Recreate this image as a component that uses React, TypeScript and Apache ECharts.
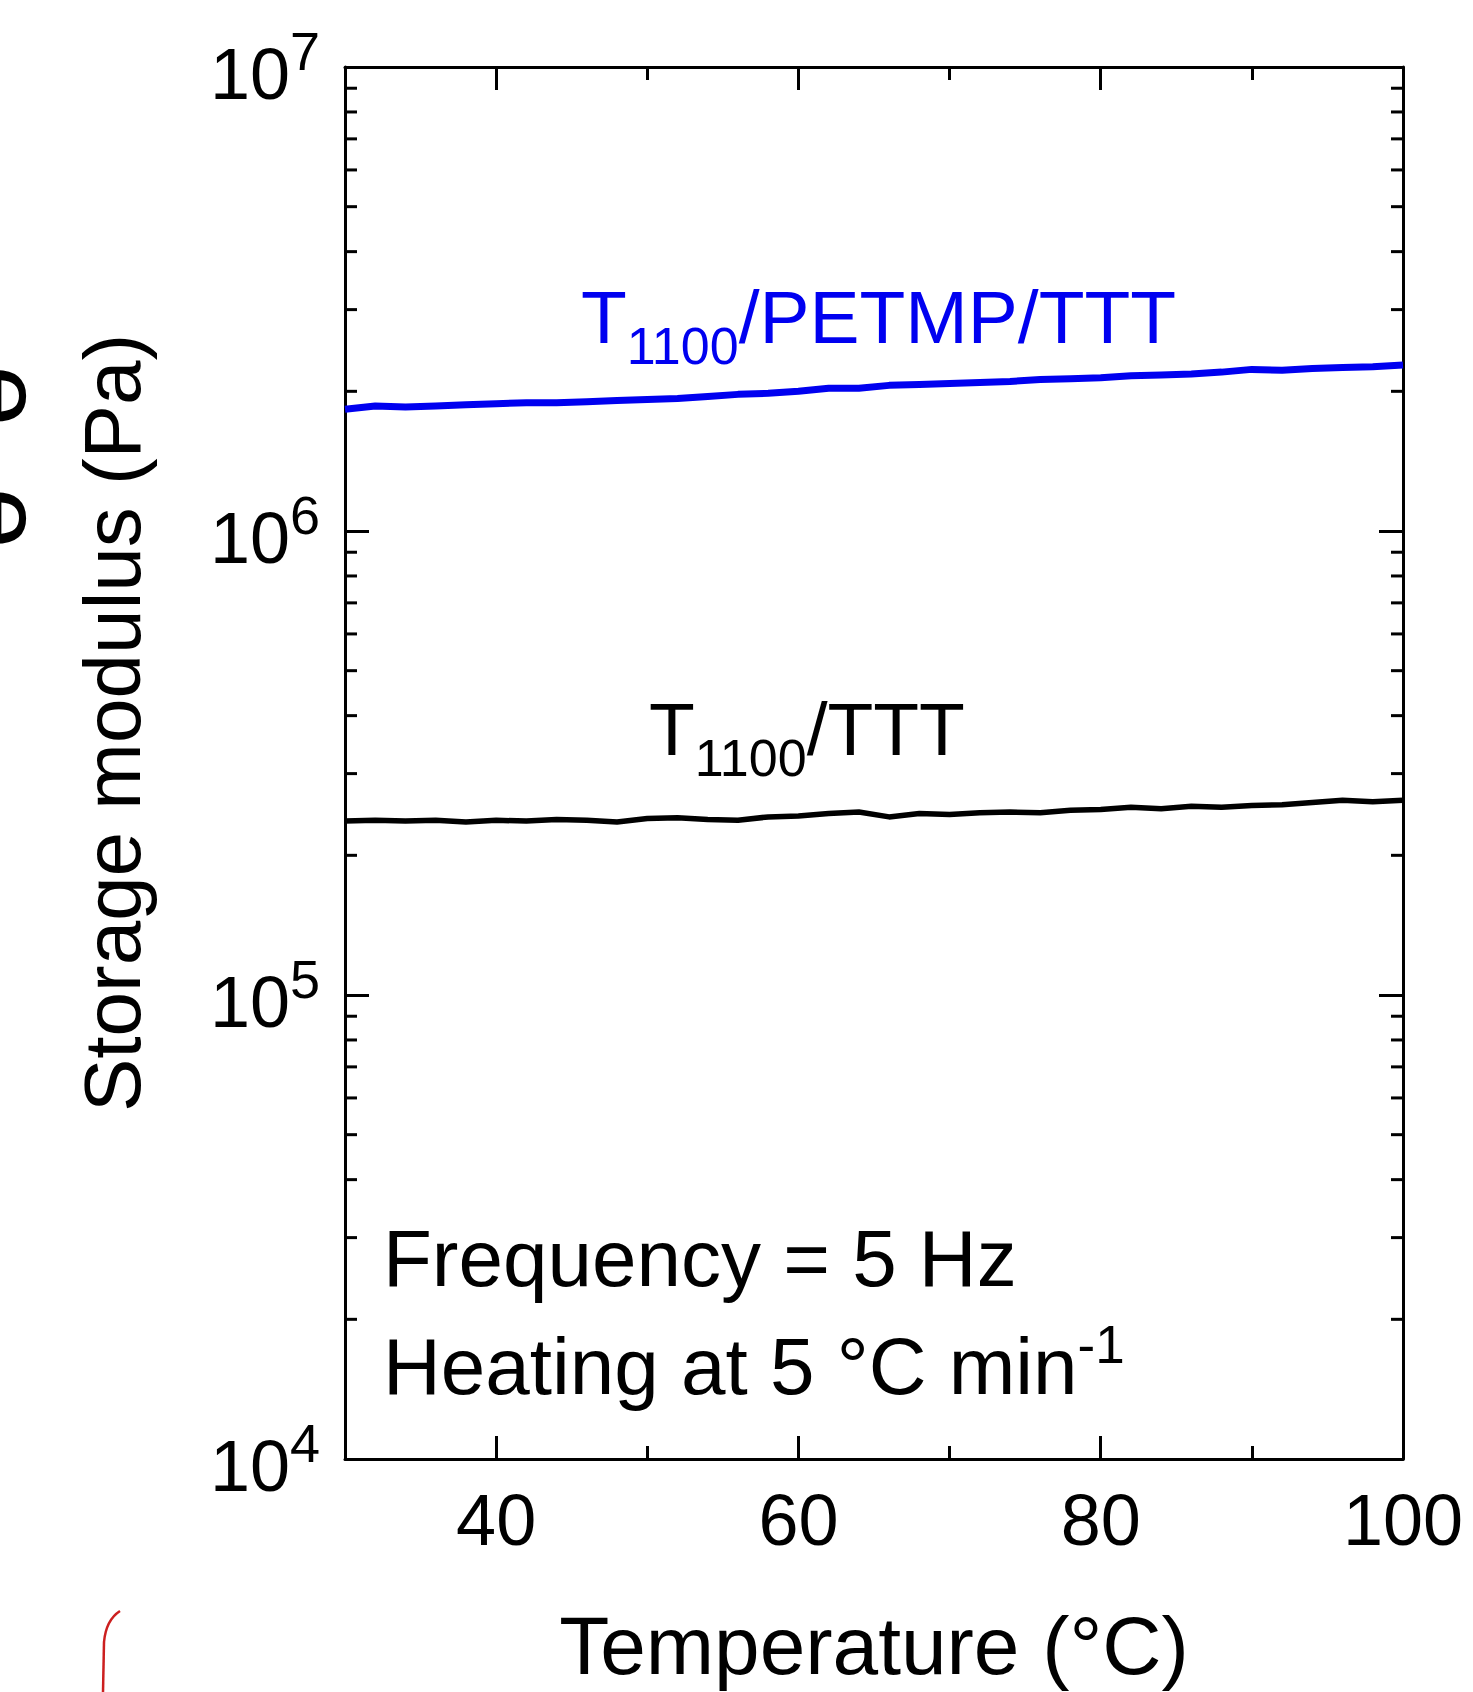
import React, { useEffect, useRef } from "react";
import * as echarts from "echarts";

// ---- data ----
const temperature = [
  30, 32, 34, 36, 38, 40, 42, 44, 46, 48, 50, 52, 54, 56, 58, 60, 62, 64,
  66, 68, 70, 72, 74, 76, 78, 80, 82, 84, 86, 88, 90, 92, 94, 96, 98, 100,
];
// T1100/PETMP/TTT storage modulus (Pa)
const petmpTtt = [
  1.83e6, 1.86e6, 1.85e6, 1.86e6, 1.87e6, 1.88e6, 1.89e6, 1.89e6, 1.9e6,
  1.91e6, 1.92e6, 1.93e6, 1.95e6, 1.97e6, 1.98e6, 2.0e6, 2.03e6, 2.03e6,
  2.06e6, 2.07e6, 2.08e6, 2.09e6, 2.1e6, 2.12e6, 2.13e6, 2.14e6, 2.16e6,
  2.17e6, 2.18e6, 2.2e6, 2.23e6, 2.22e6, 2.24e6, 2.25e6, 2.26e6, 2.28e6,
];
// T1100/TTT storage modulus (Pa)
const tttOnly = [
  2.37e5, 2.38e5, 2.37e5, 2.38e5, 2.36e5, 2.38e5, 2.37e5, 2.39e5, 2.38e5,
  2.36e5, 2.4e5, 2.41e5, 2.39e5, 2.38e5, 2.42e5, 2.43e5, 2.46e5, 2.48e5,
  2.42e5, 2.46e5, 2.45e5, 2.47e5, 2.48e5, 2.47e5, 2.5e5, 2.51e5, 2.54e5,
  2.52e5, 2.55e5, 2.54e5, 2.56e5, 2.57e5, 2.6e5, 2.63e5, 2.61e5, 2.63e5,
];
const xMajorTicks = [40, 60, 80, 100];
const xMinorTicks = [50, 70, 90];
const yMinorTicks = [
  2e4, 3e4, 4e4, 5e4, 6e4, 7e4, 8e4, 9e4,
  2e5, 3e5, 4e5, 5e5, 6e5, 7e5, 8e5, 9e5,
  2e6, 3e6, 4e6, 5e6, 6e6, 7e6, 8e6, 9e6,
];
const X_MIN = 30;
const X_MAX = 100;
const Y_MIN = 1e4;
const Y_MAX = 1e7;

const FONT = "'Liberation Sans', Arial, Helvetica, sans-serif";
const BLUE = "#0000f0";

export default function App() {
  const ref = useRef<HTMLDivElement>(null);

  useEffect(() => {
    if (!ref.current) return;
    const chart = echarts.init(ref.current, null, { renderer: "svg" });

    const lineStyleAxis = { color: "#000", width: 3 };
    const baseX = {
      type: "value" as const,
      min: X_MIN,
      max: X_MAX,
      splitLine: { show: false },
    };
    const baseY = {
      type: "log" as const,
      min: Y_MIN,
      max: Y_MAX,
      logBase: 10,
      splitLine: { show: false },
    };

    const option: any = {
      animation: false,
      backgroundColor: "#fff",
      grid: { left: 345, top: 67, width: 1058, height: 1392, containLabel: false },
      xAxis: [
        {
          ...baseX,
          position: "bottom",
          axisLine: { show: true, lineStyle: lineStyleAxis },
          axisTick: { show: true, inside: true, length: 23, lineStyle: lineStyleAxis, customValues: xMajorTicks },
          axisLabel: {
            show: true,
            customValues: xMajorTicks,
            fontSize: 72,
            fontFamily: FONT,
            color: "#000",
            margin: 25,
          },
          name: "Temperature (°C)",
          nameLocation: "middle",
          nameGap: 145,
          nameTextStyle: { fontSize: 82, fontFamily: FONT, color: "#000" },
        },
        {
          ...baseX,
          position: "bottom",
          axisLine: { show: false },
          axisTick: { show: true, inside: true, length: 13, lineStyle: lineStyleAxis, customValues: xMinorTicks },
          axisLabel: { show: false },
        },
        {
          ...baseX,
          position: "top",
          axisLine: { show: true, lineStyle: lineStyleAxis },
          axisTick: { show: true, inside: true, length: 23, lineStyle: lineStyleAxis, customValues: xMajorTicks },
          axisLabel: { show: false },
        },
        {
          ...baseX,
          position: "top",
          axisLine: { show: false },
          axisTick: { show: true, inside: true, length: 13, lineStyle: lineStyleAxis, customValues: xMinorTicks },
          axisLabel: { show: false },
        },
      ],
      yAxis: [
        {
          ...baseY,
          position: "left",
          axisLine: { show: true, lineStyle: lineStyleAxis },
          axisTick: { show: true, inside: true, length: 24, lineStyle: lineStyleAxis },
          axisLabel: {
            show: true,
            margin: 25,
            formatter: (v: number) => "{b|10}{e|" + Math.round(Math.log10(v)) + "}",
            rich: {
              b: { fontSize: 72, fontFamily: FONT, color: "#000", verticalAlign: "top", padding: [14, 0, 0, 0] },
              e: { fontSize: 54, fontFamily: FONT, color: "#000", verticalAlign: "top" },
            },
          },
          name: "Storage modulus (Pa)",
          nameLocation: "middle",
          nameGap: 193,
          nameTextStyle: { fontSize: 80, fontFamily: FONT, color: "#000", padding: [0, 0, 0, 80] },
        },
        {
          ...baseY,
          position: "right",
          axisLine: { show: true, lineStyle: lineStyleAxis },
          axisTick: { show: true, inside: true, length: 24, lineStyle: lineStyleAxis },
          axisLabel: { show: false },
        },
      ],
      series: [
        {
          name: "T1100/PETMP/TTT",
          type: "line",
          xAxisIndex: 0,
          yAxisIndex: 0,
          data: temperature.map((t, i) => [t, petmpTtt[i]]),
          showSymbol: false,
          lineStyle: { color: BLUE, width: 7 },
          itemStyle: { color: BLUE },
          z: 3,
        },
        {
          name: "T1100/TTT",
          type: "line",
          xAxisIndex: 0,
          yAxisIndex: 0,
          data: temperature.map((t, i) => [t, tttOnly[i]]),
          showSymbol: false,
          lineStyle: { color: "#000", width: 5.5 },
          itemStyle: { color: "#000" },
          z: 3,
        },
        {
          name: "yMinorTicks",
          type: "custom",
          xAxisIndex: 0,
          yAxisIndex: 0,
          clip: false,
          silent: true,
          data: yMinorTicks.map((v) => [X_MIN, v]),
          encode: { x: 0, y: 1 },
          renderItem: (_params: any, api: any) => {
            const v = api.value(1);
            const pl = api.coord([X_MIN, v]);
            const pr = api.coord([X_MAX, v]);
            return {
              type: "group",
              children: [
                { type: "line", shape: { x1: pl[0], y1: pl[1], x2: pl[0] + 12, y2: pl[1] }, style: { stroke: "#000", lineWidth: 3 } },
                { type: "line", shape: { x1: pr[0] - 12, y1: pr[1], x2: pr[0], y2: pr[1] }, style: { stroke: "#000", lineWidth: 3 } },
              ],
            };
          },
        },
      ],
      graphic: [
        {
          type: "text",
          x: 581,
          y: 262,
          z: 10,
          style: {
            text: "{a|T}{s|1100}{a|/PETMP/TTT}",
            align: "left",
            verticalAlign: "top",
            fill: BLUE,
            rich: {
              a: { fontSize: 75, fontFamily: FONT, fill: BLUE, verticalAlign: "middle" },
              s: { fontSize: 52, fontFamily: FONT, fill: BLUE, verticalAlign: "top", padding: [58, 0, 0, 0] },
            },
          },
        },
        {
          type: "text",
          x: 649,
          y: 674,
          z: 10,
          style: {
            text: "{a|T}{s|1100}{a|/TTT}",
            align: "left",
            verticalAlign: "top",
            fill: "#000",
            rich: {
              a: { fontSize: 75, fontFamily: FONT, fill: "#000", verticalAlign: "middle" },
              s: { fontSize: 52, fontFamily: FONT, fill: "#000", verticalAlign: "top", padding: [58, 0, 0, 0] },
            },
          },
        },
        {
          type: "text",
          x: 383,
          y: 1258,
          z: 10,
          style: {
            text: "Frequency = 5 Hz",
            fontSize: 80,
            fontFamily: FONT,
            fill: "#000",
            align: "left",
            verticalAlign: "middle",
          },
        },
        {
          type: "text",
          x: 383,
          y: 1317.5,
          z: 10,
          style: {
            text: "{m|Heating at 5 °C min}{p|-1}",
            align: "left",
            verticalAlign: "top",
            fill: "#000",
            rich: {
              m: { fontSize: 80, fontFamily: FONT, fill: "#000", verticalAlign: "top", padding: [8.5, 0, 0, 0] },
              p: { fontSize: 53, fontFamily: FONT, fill: "#000", verticalAlign: "top" },
            },
          },
        },
        {
          // partially visible label of a neighbouring panel, cut by the left edge
          type: "text",
          x: 5,
          y: 457,
          rotation: -Math.PI / 2,
          style: {
            text: "e  e",
            fontSize: 110,
            fontFamily: FONT,
            fill: "#000",
            align: "center",
            verticalAlign: "middle",
          },
        },
        {
          type: "bezierCurve",
          shape: { x1: 120, y1: 1611, cpx1: 106, cpy1: 1620, x2: 104, y2: 1642 },
          style: { stroke: "#cc1f1f", lineWidth: 2.5, fill: "none" },
        },
        {
          type: "line",
          shape: { x1: 104, y1: 1642, x2: 103, y2: 1692 },
          style: { stroke: "#cc1f1f", lineWidth: 2.5 },
        },
      ],
    };

    chart.setOption(option);
    return () => chart.dispose();
  }, []);

  return (
    <div
      ref={ref}
      style={{ position: "absolute", left: 0, top: 0, width: 1473, height: 1692, background: "#fff" }}
    />
  );
}
